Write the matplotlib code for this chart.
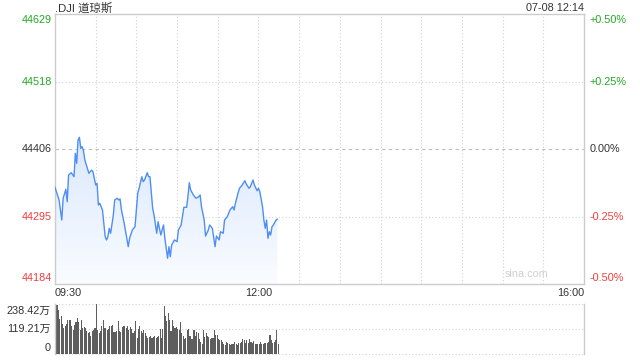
import numpy as np
import matplotlib
matplotlib.use('Agg')
import matplotlib.pyplot as plt
from matplotlib.transforms import blended_transform_factory, offset_copy
from matplotlib.patches import PathPatch
from matplotlib.path import Path

plt.rcParams['font.family'] = ['Liberation Sans', 'Noto Sans CJK SC', 'DejaVu Sans']

# ---------------- data ----------------
title = '.DJI 道琼斯'
timestamp = '07-08 12:14'
prev_close = 44406.5
price_labels = ['44629', '44518', '44406', '44295', '44184']
pct_levels = [0.5, 0.25, 0.0, -0.25, -0.5]
pct_labels = ['+0.50%', '+0.25%', '0.00%', '-0.25%', '-0.50%']
time_labels = ['09:30', '12:00', '16:00']
time_label_minutes = [0, 150, 390]

minutes = [0, 3, 5, 6, 8, 9, 10, 12, 14, 15, 16, 17, 18, 19, 20, 21, 22, 25, 27, 28,
           30, 31, 32, 33, 35, 37, 38, 39, 40, 41, 43, 44, 46, 47, 48, 49, 51, 54, 55, 57,
           59, 61, 62, 64, 65, 66, 68, 69, 70, 72, 73, 75, 76, 78, 80, 81, 83, 84, 85, 86,
           88, 90, 91, 93, 95, 97, 98, 99, 100, 102, 104, 106, 107, 108, 110, 111, 113, 114, 116, 118,
           119, 121, 122, 124, 125, 127, 129, 131, 132, 133, 135, 136, 138, 140, 141, 143, 144, 146, 147, 149,
           150, 151, 153, 154, 155, 156, 157, 158, 159, 160, 161, 163, 164]
prices = [44343.7, 44322.8, 44289.9, 44325.6, 44340.5, 44320.0, 44364.0, 44367.8, 44361.2, 44399.7,
          44383.3, 44421.7, 44426.1, 44408.0, 44410.6, 44404.0, 44388.7, 44366.8, 44372.2, 44369.4,
          44347.5, 44350.3, 44314.6, 44317.4, 44306.4, 44262.4, 44257.0, 44262.4, 44276.2, 44268.0,
          44298.1, 44322.8, 44325.6, 44322.8, 44324.5, 44306.4, 44284.5, 44245.9, 44259.8, 44273.4,
          44278.9, 44333.9, 44342.1, 44361.2, 44353.0, 44355.8, 44367.8, 44361.2, 44361.2, 44309.2,
          44298.1, 44268.0, 44287.1, 44265.2, 44281.7, 44259.8, 44226.8, 44245.9, 44229.4, 44248.7,
          44257.0, 44254.2, 44273.4, 44281.7, 44310.8, 44310.8, 44328.3, 44351.3, 44339.3, 44331.1,
          44325.6, 44328.3, 44331.1, 44311.8, 44289.9, 44263.5, 44273.4, 44281.7, 44276.2, 44245.9,
          44263.5, 44257.0, 44270.6, 44268.0, 44289.9, 44295.3, 44306.4, 44311.8, 44306.4, 44317.4,
          44334.9, 44342.1, 44347.5, 44354.6, 44349.2, 44342.1, 44344.7, 44355.8, 44347.5, 44338.1,
          44342.1, 44336.5, 44311.8, 44289.9, 44276.2, 44289.9, 44259.8, 44270.6, 44265.2, 44278.9,
          44281.7, 44289.9, 44291.0]

# volume per minute, in 万
volume = [213, 237, 210, 168, 184, 146, 125, 136, 146, 165, 162, 162, 136, 114, 141, 152, 173, 152, 117, 165,
          125, 130, 125, 109, 101, 106, 85, 112, 114, 125, 238, 117, 101, 109, 136, 165, 125, 125, 114, 120,
          136,
          136, 141, 104, 104, 109, 160, 109, 104, 130, 136, 133, 125, 136, 117, 130, 120, 101, 109, 157, 77,
          120, 136, 109, 101, 117, 101, 88, 77, 82, 88, 77, 82, 88, 77, 82, 88, 120, 77, 120, 232,
          181, 157, 197, 162,
          109, 162, 136, 125, 130, 120, 114, 152, 101, 88, 72, 77, 114, 120, 88, 72, 72, 114, 88, 107,
          101, 72, 61, 50, 114, 82, 101, 85, 82, 72, 77, 77, 114, 93, 93, 72, 66, 66, 61, 50,
          45,
          59, 56, 48, 45, 50, 50, 61, 50, 45, 53, 56, 61, 72, 66, 53, 66, 56, 72, 61, 56,
          64, 48, 50, 50, 48, 59, 50, 50, 56, 53, 56, 61, 93, 66, 56, 59, 66, 114, 50]
vol_max = 238.42
vol_levels = [238.42, 119.21, 0]
vol_labels = ['238.42万', '119.21万', '0']

# ---------------- styles ----------------
W, H = 640, 360
GREEN = '#22a822'
RED = '#f03c3c'
DARK = '#333333'
GRID = '#d2d2d2'
FRAME = '#cccccc'
LINE = '#4f8ef5'
FS = 7.8


def fx(px):
    return px / W


def fy(py):
    return 1 - py / H


fig = plt.figure(figsize=(6.4, 3.6), dpi=100)
ax = fig.add_axes([fx(55), fy(284), fx(584) - fx(55), fy(14.4) - fy(284)])
axv = fig.add_axes([fx(55), fy(354.3), fx(584) - fx(55), (354.3 - 304.3) / H])

ylo = prev_close * (1 - 0.005)
yhi = prev_close * (1 + 0.005)
level_prices = [prev_close * (1 + p / 100) for p in pct_levels]

# ---- main price panel ----
for m in range(30, 390, 30):
    ax.axvline(m, color=GRID, lw=0.8, ls=(0, (1, 2)), zorder=0)
for p, lp in zip(pct_levels, level_prices):
    if abs(p) == 0.25:
        ax.axhline(lp, color=GRID, lw=0.8, ls=(0, (1, 2)), zorder=0)
    elif p == 0:
        ax.axhline(lp, color='#bdbdbd', lw=0.8, ls=(0, (3, 3)), zorder=0)

# gradient fill under the line
verts = list(zip(minutes, prices)) + [(minutes[-1], ylo), (minutes[0], ylo), (minutes[0], prices[0])]
patch = PathPatch(Path(verts), facecolor='none', edgecolor='none')
ax.add_patch(patch)
top_c = np.array([218, 232, 252]) / 255.0
bot_c = np.array([250, 252, 255]) / 255.0
t = np.linspace(0, 1, 256).reshape(-1, 1, 1)
grad = top_c * (1 - t) + bot_c * t
img = ax.imshow(grad, extent=[minutes[0], minutes[-1], ylo, max(prices)], aspect='auto',
                origin='upper', zorder=1, interpolation='bilinear')
img.set_clip_path(patch)

ax.plot(minutes, prices, color=LINE, lw=1.0, zorder=3, solid_joinstyle='round')

ax.set_xlim(0, 390)
ax.set_ylim(ylo, yhi)
ax.set_xticks([])
ax.set_yticks([])
for s in ax.spines.values():
    s.set_color(FRAME)
    s.set_linewidth(1.0)

# price labels (left) and percent labels (right)
trans_l = offset_copy(blended_transform_factory(ax.transAxes, ax.transData), fig=fig, x=-3, y=0, units='dots')
trans_r = offset_copy(blended_transform_factory(ax.transAxes, ax.transData), fig=fig, x=6, y=0, units='dots')
for i, (p, lp, lab, plab) in enumerate(zip(pct_levels, level_prices, price_labels, pct_labels)):
    col = GREEN if p > 0 else (RED if p < 0 else DARK)
    yy = lp
    if i == 0:
        yy = lp - 5.5 * (yhi - ylo) / 269.6
    elif i == len(pct_levels) - 1:
        yy = lp + 6 * (yhi - ylo) / 269.6
    ax.text(0, yy, lab, transform=trans_l, ha='right', va='center', color=col, fontsize=FS)
    ax.text(1, yy, plab, transform=trans_r, ha='left', va='center', color=col, fontsize=FS)

# title and timestamp
fig.text(fx(55), fy(8), title, ha='left', va='center', color=DARK, fontsize=8.2)
fig.text(fx(584), fy(8), timestamp, ha='right', va='center', color=DARK, fontsize=FS)

# time labels
for lab, m in zip(time_labels, time_label_minutes):
    xx = fx(55) + (fx(584) - fx(55)) * m / 390
    ha = 'left' if m == 0 else ('right' if m == 390 else 'center')
    fig.text(xx, fy(293), lab, ha=ha, va='center', color=DARK, fontsize=FS)

# watermark
ax.text(0.932, 0.019, 'sina.com', transform=ax.transAxes, ha='right', va='bottom',
        color='#cfcfcf', fontsize=7.8)

# ---- volume panel ----
for lv in vol_levels:
    axv.axhline(lv, color=GRID, lw=0.8, ls=(0, (1, 2)), zorder=0, clip_on=False)
vx = np.arange(len(volume)) + 0.5
axv.bar(vx, volume, width=0.8, color='#5e5e5e', linewidth=0, zorder=2)
axv.set_xlim(0, 390)
axv.set_ylim(0, vol_max)
axv.set_xticks([])
axv.set_yticks([])
for k in ['top', 'bottom']:
    axv.spines[k].set_visible(False)
for k in ['left', 'right']:
    axv.spines[k].set_color(FRAME)
    axv.spines[k].set_linewidth(1.0)

trans_v = offset_copy(blended_transform_factory(axv.transAxes, axv.transData), fig=fig, x=-4, y=0, units='dots')
vol_label_y = [vol_max - 6.5 * vol_max / 50, 119.21, 6 * vol_max / 50]
for lab, yy in zip(vol_labels, vol_label_y):
    axv.text(0, yy, lab, transform=trans_v, ha='right', va='center', color=DARK, fontsize=FS)

fig.savefig('out.png', dpi=100)
